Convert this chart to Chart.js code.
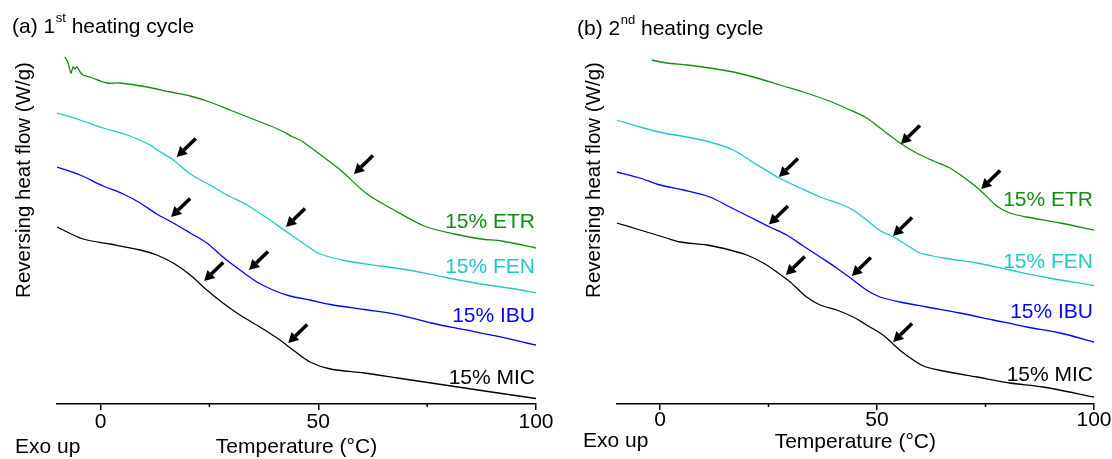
<!DOCTYPE html>
<html>
<head>
<meta charset="utf-8">
<script src="https://cdn.jsdelivr.net/npm/chart.js@4.4.1/dist/chart.umd.min.js"></script>
<style>
  body { margin: 0; background: #fff; }
  #wrap { position: relative; width: 1112px; height: 459px; }
  canvas { position: absolute; top: 0; }
</style>
</head>
<body>
<div id="wrap">
  <canvas id="cA" width="556" height="459" style="left:0"></canvas>
  <canvas id="cB" width="556" height="459" style="left:556px"></canvas>
</div>
<script>
// ---- data (temperature in °C, reversing heat flow in arbitrary W/g, offset curves) ----
const seriesNames = ['15% ETR', '15% FEN', '15% IBU', '15% MIC'];
const colors = ['#128c12', '#22c7c7', '#0000ff', '#000000'];
const xTicks = [0, 50, 100];
const xMinorTicks = [25, 75];

// (a) 1st heating cycle
const tA_ETR = [-8.2, -7.5, -6.8, -6.3, -5.9, -5.4, -4.7, -4.0, -2.4, 1.5, 4.5, 10.7, 16.0, 20.6, 25.1, 29.7, 37.3, 41.2, 44.2, 45.8, 48.1, 51.2, 55.1, 61.2, 67.4, 74.3, 81.3, 87.4, 92.1, 100];
const hfA_ETR = [3.47, 3.42, 3.31, 3.37, 3.35, 3.37, 3.32, 3.29, 3.27, 3.21, 3.21, 3.17, 3.12, 3.08, 3.02, 2.94, 2.81, 2.74, 2.67, 2.64, 2.57, 2.47, 2.34, 2.10, 1.94, 1.78, 1.70, 1.65, 1.63, 1.56];
const tA_FEN = [-10, -4.7, 0.6, 6.1, 11.4, 13.0, 16.7, 20.6, 25.1, 29.0, 33.6, 38.2, 42.8, 45.8, 48.1, 50.4, 56.6, 64.3, 72.0, 79.8, 87.4, 95.2, 100];
const hfA_FEN = [2.91, 2.84, 2.76, 2.69, 2.59, 2.54, 2.44, 2.30, 2.19, 2.09, 1.99, 1.86, 1.72, 1.63, 1.56, 1.50, 1.43, 1.38, 1.33, 1.26, 1.20, 1.15, 1.11];
const tA_IBU = [-10, -4.7, 0.6, 5.2, 9.1, 12.9, 16.7, 20.6, 24.4, 28.1, 32.0, 35.9, 39.6, 43.5, 48.1, 52.8, 60.5, 68.2, 75.9, 83.6, 91.3, 100];
const hfA_IBU = [2.37, 2.29, 2.18, 2.10, 2.01, 1.90, 1.81, 1.71, 1.61, 1.47, 1.34, 1.22, 1.14, 1.08, 1.04, 0.995, 0.945, 0.894, 0.81, 0.743, 0.676, 0.59];
const tA_MIC = [-10, -4.0, 2.2, 9.1, 12.9, 16.7, 20.6, 24.4, 28.1, 32.0, 36.6, 41.2, 44.2, 48.1, 52.8, 60.5, 68.2, 75.9, 83.6, 91.3, 100];
const hfA_MIC = [1.77, 1.65, 1.60, 1.54, 1.49, 1.41, 1.29, 1.14, 1.01, 0.89, 0.77, 0.64, 0.54, 0.42, 0.35, 0.31, 0.26, 0.21, 0.16, 0.11, 0.055];
const arrowsA = [[17.5, 2.47], [16.2, 1.87], [42.6, 1.77], [34.1, 1.34], [23.8, 1.23], [43.1, 0.61], [58.2, 2.30]];
const labelHfA = [1.82, 1.37, 0.88, 0.26];

// (b) 2nd heating cycle
const tB_ETR = [-1.9, 1.5, 6.2, 11.5, 16.9, 22.3, 27.6, 33.0, 38.4, 43.8, 47.6, 50.7, 55.3, 59.1, 63.0, 66.8, 69.9, 73.7, 77.6, 80.6, 84.5, 92.2, 100];
const hfB_ETR = [3.44, 3.41, 3.39, 3.36, 3.32, 3.26, 3.19, 3.12, 3.04, 2.94, 2.86, 2.76, 2.61, 2.51, 2.43, 2.36, 2.27, 2.14, 1.98, 1.91, 1.87, 1.81, 1.74];
const tB_FEN = [-10, -4.6, 0.8, 6.2, 11.5, 16.9, 21.5, 27.5, 32.3, 36.9, 41.5, 44.5, 47.6, 50.7, 53.8, 57.6, 59.9, 65.3, 73.0, 80.6, 88.3, 100];
const hfB_FEN = [2.84, 2.77, 2.71, 2.67, 2.62, 2.54, 2.415, 2.26, 2.16, 2.07, 2.00, 1.94, 1.84, 1.735, 1.67, 1.57, 1.51, 1.46, 1.41, 1.34, 1.27, 1.185];
const tB_IBU = [-10, -4.6, 0, 5.4, 11.5, 16.1, 20.7, 25.3, 29.2, 33.0, 36.9, 40.7, 44.5, 47.6, 50.7, 55.3, 61.5, 69.1, 76.8, 84.5, 92.2, 100];
const hfB_IBU = [2.32, 2.26, 2.19, 2.14, 2.07, 1.97, 1.87, 1.77, 1.69, 1.58, 1.47, 1.36, 1.24, 1.14, 1.07, 1.02, 0.97, 0.91, 0.84, 0.77, 0.71, 0.62];
const tB_MIC = [-10, -4.6, 1.5, 4.6, 10.8, 16.1, 20.0, 23.8, 26.9, 30.0, 33.8, 36.9, 40.7, 44.5, 47.6, 50.7, 52.2, 56.1, 60.7, 65.3, 73.0, 80.6, 88.3, 100];
const hfB_MIC = [1.81, 1.74, 1.66, 1.62, 1.59, 1.54, 1.49, 1.41, 1.32, 1.22, 1.07, 0.99, 0.94, 0.87, 0.79, 0.71, 0.66, 0.51, 0.38, 0.33, 0.27, 0.21, 0.17, 0.07];
const arrowsB = [[27.4, 2.27], [25.1, 1.795], [29.0, 1.29], [44.2, 1.28], [55.5, 2.60], [74.0, 2.15], [53.7, 1.68], [53.7, 0.62]];
const labelHfB = [2.04, 1.42, 0.92, 0.29];

const FAMILY = '"Liberation Sans", Arial, sans-serif';
const FS = 21;

const toXY = (ts, hs) => ts.map((t, i) => ({ x: t, y: hs[i] }));

function drawArrow(ctx, tx, ty) {
  // black arrow pointing down-left to (tx, ty)
  const dx = 19, dy = -18.5;
  const len = Math.hypot(dx, dy);
  const ux = dx / len, uy = dy / len;
  const head = 10, half = 5.5;
  const bx = tx + ux * head, by = ty + uy * head;
  ctx.strokeStyle = '#000';
  ctx.fillStyle = '#000';
  ctx.lineWidth = 3.6;
  ctx.lineCap = 'butt';
  ctx.beginPath();
  ctx.moveTo(bx, by);
  ctx.lineTo(tx + dx, ty + dy);
  ctx.stroke();
  ctx.beginPath();
  ctx.moveTo(tx, ty);
  ctx.lineTo(bx - uy * half, by + ux * half);
  ctx.lineTo(bx + uy * half, by - ux * half);
  ctx.closePath();
  ctx.fill();
}

const deco = {
  id: 'deco',
  afterDatasetsDraw(chart, args, o) {
    const { ctx } = chart;
    const x = chart.scales.x, y = chart.scales.y;
    ctx.save();
    // minor ticks
    ctx.strokeStyle = '#000';
    ctx.lineWidth = 1.5;
    xMinorTicks.forEach(v => {
      const px = x.getPixelForValue(v);
      ctx.beginPath();
      ctx.moveTo(px, y.bottom);
      ctx.lineTo(px, y.bottom + 3);
      ctx.stroke();
    });
    // arrows
    o.arrows.forEach(([t, h]) => drawArrow(ctx, x.getPixelForValue(t), y.getPixelForValue(h)));
    // curve labels
    ctx.font = FS + 'px ' + FAMILY;
    ctx.textAlign = 'right';
    ctx.textBaseline = 'middle';
    seriesNames.forEach((n, i) => {
      ctx.fillStyle = colors[i];
      ctx.fillText(n, x.getPixelForValue(100) - 1, y.getPixelForValue(o.labelHf[i]));
    });
    // panel title with superscript
    ctx.fillStyle = '#000';
    ctx.textAlign = 'left';
    ctx.textBaseline = 'alphabetic';
    ctx.font = FS + 'px ' + FAMILY;
    let cx = o.titleX;
    ctx.fillText(o.title[0], cx, o.titleY);
    cx += ctx.measureText(o.title[0]).width + 0.5;
    ctx.font = '13px ' + FAMILY;
    ctx.fillText(o.title[1], cx, o.titleY - 11);
    cx += ctx.measureText(o.title[1]).width;
    ctx.font = FS + 'px ' + FAMILY;
    ctx.fillText(o.title[2], cx, o.titleY);
    // y-axis title
    ctx.save();
    ctx.font = '20.5px ' + FAMILY;
    ctx.translate(o.yTitleX, o.yTitleY);
    ctx.rotate(-Math.PI / 2);
    ctx.textAlign = 'center';
    ctx.fillText('Reversing heat flow (W/g)', 0, 0);
    ctx.restore();
    // Exo up and x title
    ctx.textAlign = 'left';
    ctx.fillText('Exo up', o.exoX, o.exoY);
    ctx.textAlign = 'center';
    ctx.fillText('Temperature (°C)', x.getPixelForValue((x.min + x.max) / 2), o.xTitleY);
    ctx.restore();
  }
};

function makeChart(id, sets, pad, tickPad, deco_opts) {
  return new Chart(document.getElementById(id), {
    type: 'line',
    data: {
      datasets: sets.map((s, i) => ({
        label: seriesNames[i],
        data: s,
        borderColor: colors[i],
        borderWidth: 1.3,
        pointRadius: 0,
        fill: false,
        tension: 0.3
      }))
    },
    options: {
      responsive: false,
      animation: false,
      events: [],
      devicePixelRatio: 1,
      layout: { padding: pad },
      plugins: { legend: { display: false }, tooltip: { enabled: false }, deco: deco_opts },
      scales: {
        x: {
          type: 'linear',
          min: -10,
          max: 100,
          afterBuildTicks: s => { s.ticks = xTicks.map(v => ({ value: v })); },
          afterFit: s => { s.height = 55; s.paddingLeft = 0; s.paddingRight = 0; },
          grid: { drawOnChartArea: false, tickLength: 6, color: '#000', lineWidth: 1.5 },
          border: { display: true, color: '#000', width: 1.5 },
          ticks: { color: '#000', padding: tickPad, maxRotation: 0, font: { family: FAMILY, size: FS, lineHeight: 1.2 } }
        },
        y: { display: false, min: 0, max: 3.54 }
      }
    },
    plugins: [deco]
  });
}

makeChart('cA',
  [toXY(tA_ETR, hfA_ETR), toXY(tA_FEN, hfA_FEN), toXY(tA_IBU, hfA_IBU), toXY(tA_MIC, hfA_MIC)],
  { left: 57, right: 20, top: 50, bottom: 0 }, -0.5,
  { arrows: arrowsA, labelHf: labelHfA, title: ['(a) 1', 'st', ' heating cycle'], titleX: 12, titleY: 33,
    yTitleX: 29.5, yTitleY: 180, exoX: 15, exoY: 453, xTitleY: 453 });

makeChart('cB',
  [toXY(tB_ETR, hfB_ETR), toXY(tB_FEN, hfB_FEN), toXY(tB_IBU, hfB_IBU), toXY(tB_MIC, hfB_MIC)],
  { left: 60.6, right: 18, top: 50, bottom: 0 }, -2.5,
  { arrows: arrowsB, labelHf: labelHfB, title: ['(b) 2', 'nd', ' heating cycle'], titleX: 21, titleY: 35,
    yTitleX: 43.5, yTitleY: 180, exoX: 27, exoY: 447, xTitleY: 448 });
</script>
</body>
</html>
